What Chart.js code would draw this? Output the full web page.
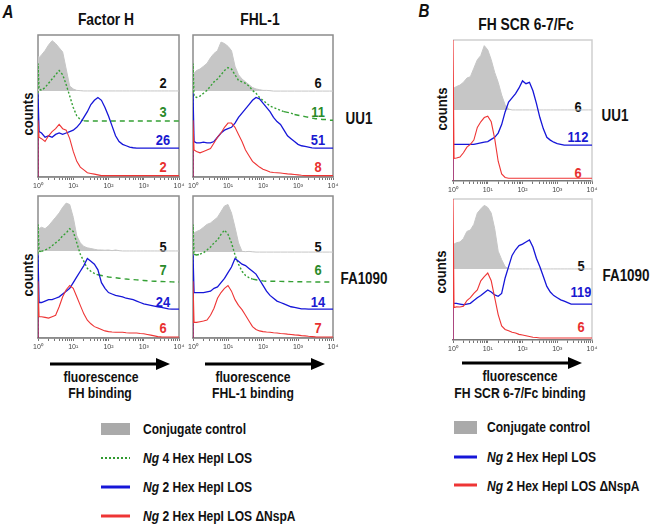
<!DOCTYPE html>
<html>
<head>
<meta charset="utf-8">
<script src="https://cdn.jsdelivr.net/npm/chart.js@4.4.1/dist/chart.umd.min.js"></script>
<style>
body{margin:0;background:#fff;}
#fig{position:relative;width:650px;height:525px;overflow:hidden;font-family:"Liberation Sans",Arial,sans-serif;font-weight:bold;color:#111;}
#fig canvas,#fig svg{position:absolute;}
.t{position:absolute;white-space:nowrap;line-height:1;}
.c{transform:translate(-50%,-50%) scaleX(.84);}
.l{transform-origin:0 50%;transform:translateY(-50%) scaleX(.86);font-size:14px;}
.v{transform:translate(-50%,-50%) rotate(-90deg) scaleX(.87);font-size:15px;}
.n{font-size:14px;transform:translate(-50%,-50%) scaleX(.92);}
.g{color:#2a8a2a}.b{color:#1a1ad0}.r{color:#e83030}
</style>
</head>
<body>
<div id="fig">
<svg width="650" height="525">
  <line x1="50" y1="364" x2="158" y2="364" stroke="#000" stroke-width="3"/>
  <polygon points="156,358 170,364 156,370" fill="#000"/>
  <line x1="205" y1="364" x2="313" y2="364" stroke="#000" stroke-width="3"/>
  <polygon points="311,358 325,364 311,370" fill="#000"/>
  <line x1="462" y1="363" x2="570" y2="363" stroke="#000" stroke-width="3"/>
  <polygon points="568,357 582,363 568,369" fill="#000"/>
  <rect x="101" y="423" width="29" height="12" fill="#aaaaaa"/>
  <line x1="101" y1="458" x2="130" y2="458" stroke="#2f9a2f" stroke-width="2" stroke-dasharray="2,2"/>
  <line x1="101" y1="487" x2="130" y2="487" stroke="#1616d8" stroke-width="3"/>
  <line x1="101" y1="516" x2="130" y2="516" stroke="#ee3535" stroke-width="3"/>
  <rect x="454" y="421" width="23" height="13" fill="#aaaaaa"/>
  <line x1="454" y1="457" x2="477" y2="457" stroke="#1616d8" stroke-width="3"/>
  <line x1="454" y1="485" x2="477" y2="485" stroke="#ee3535" stroke-width="3"/>
</svg>

<div class="t c" style="left:8px;top:12px;font-size:18px;font-style:italic">A</div>
<div class="t c" style="left:424px;top:11px;font-size:18px;font-style:italic">B</div>
<div class="t c" style="left:106px;top:19px;font-size:16.5px">Factor H</div>
<div class="t c" style="left:260px;top:19px;font-size:16.5px">FHL-1</div>
<div class="t c" style="left:526px;top:24px;font-size:16.5px">FH SCR 6-7/Fc</div>

<div class="t v" style="left:27px;top:114px">counts</div>
<div class="t v" style="left:27px;top:275px">counts</div>
<div class="t v" style="left:441px;top:109px">counts</div>
<div class="t v" style="left:440px;top:272px">counts</div>

<div class="t c" style="left:359px;top:119px;font-size:16px">UU1</div>
<div class="t c" style="left:364px;top:279px;font-size:16px">FA1090</div>
<div class="t c" style="left:615px;top:116px;font-size:16px">UU1</div>
<div class="t c" style="left:626px;top:276px;font-size:16px">FA1090</div>

<div class="t n" style="left:163px;top:83px">2</div>
<div class="t n g" style="left:163px;top:112px">3</div>
<div class="t n b" style="left:163px;top:140px">26</div>
<div class="t n r" style="left:163px;top:167px">2</div>
<div class="t n" style="left:318px;top:83px">6</div>
<div class="t n g" style="left:318px;top:112px">11</div>
<div class="t n b" style="left:318px;top:140px">51</div>
<div class="t n r" style="left:318px;top:167px">8</div>
<div class="t n" style="left:163px;top:247px">5</div>
<div class="t n g" style="left:163px;top:270px">7</div>
<div class="t n b" style="left:163px;top:302px">24</div>
<div class="t n r" style="left:163px;top:328px">6</div>
<div class="t n" style="left:318px;top:247px">5</div>
<div class="t n g" style="left:318px;top:270px">6</div>
<div class="t n b" style="left:318px;top:302px">14</div>
<div class="t n r" style="left:318px;top:328px">7</div>
<div class="t n" style="left:578px;top:107px">6</div>
<div class="t n b" style="left:578px;top:137px">112</div>
<div class="t n r" style="left:578px;top:173px">6</div>
<div class="t n" style="left:581px;top:266px">5</div>
<div class="t n b" style="left:581px;top:292px">119</div>
<div class="t n r" style="left:581px;top:327px">6</div>

<div class="t c" style="left:101px;top:377px;font-size:14.5px">fluorescence</div>
<div class="t c" style="left:100px;top:393px;font-size:14.5px">FH binding</div>
<div class="t c" style="left:253px;top:377px;font-size:14.5px">fluorescence</div>
<div class="t c" style="left:253px;top:393px;font-size:14.5px">FHL-1 binding</div>
<div class="t c" style="left:520px;top:376px;font-size:14.5px">fluorescence</div>
<div class="t c" style="left:520px;top:393px;font-size:14.5px">FH SCR 6-7/Fc binding</div>

<div class="t l" style="left:143px;top:429px">Conjugate control</div>
<div class="t l" style="left:143px;top:458px"><i>Ng</i> 4 Hex HepI LOS</div>
<div class="t l" style="left:143px;top:487px"><i>Ng</i> 2 Hex HepI LOS</div>
<div class="t l" style="left:143px;top:516px"><i>Ng</i> 2 Hex HepI LOS ΔNspA</div>
<div class="t l" style="left:487px;top:427px">Conjugate control</div>
<div class="t l" style="left:487px;top:457px"><i>Ng</i> 2 Hex HepI LOS</div>
<div class="t l" style="left:487px;top:486px"><i>Ng</i> 2 Hex HepI LOS ΔNspA</div>
</div>

<script>
// histogram bins, log10 of fluorescence (first bin repeated: histogram starts at zero count)
const logBins = [0, 0, 0.03,
  0.1, 0.2, 0.3, 0.4, 0.5, 0.6, 0.7, 0.8, 0.9, 1.0,
  1.1, 1.2, 1.3, 1.4, 1.5, 1.6, 1.7, 1.8, 1.9, 2.0,
  2.1, 2.2, 2.3, 2.4, 2.5, 2.6, 2.7, 2.8, 2.9, 3.0,
  3.1, 3.2, 3.3, 3.4, 3.5, 3.6, 3.7, 3.8, 3.9, 4.0];
const majorTicks = [1, 10, 100, 1000, 10000];
const majorLabels = ['10⁰', '10¹', '10²', '10³', '10⁴'];
const minorSteps = [2, 3, 4, 5, 6, 7, 8, 9];

// counts, % of panel height (overlays are offset as in the figure)
// Factor H / UU1
const fhUU1Conj = [0, 85, 84, 86, 89, 93, 96, 94, 91, 88, 76, 64, 62,
  61, 60.8, 60.6, 60.6, 60.6, 60.6, 60.6, 60.6, 60.6, 60.6,
  60.6, 60.6, 60.6, 60.6, 60.6, 60.6, 60.6, 60.6, 60.6, 60.6,
  60.6, 60.6, 60.6, 60.6, 60.6, 60.6, 60.6, 60.6, 60.6, 60.6];
const fhUU1Hex4 = [0, 80, 62, 61, 63, 66, 69, 72, 75, 72, 65, 57, 49,
  43, 40.5, 39.5, 39.4, 39.4, 39.4, 39.4, 39.4, 39.4, 39.4,
  39.4, 39.4, 39.4, 39.4, 39.4, 39.4, 39.4, 39.4, 39.4, 39.4,
  39.4, 39.4, 39.4, 39.4, 39.4, 39.4, 39.4, 39.4, 39.4, 39.4];
const fhUU1Hex2 = [0, 59, 32, 31, 28, 29, 28, 30, 31, 30, 31, 32, 33,
  35, 38, 42, 46, 51, 54, 56, 54, 49, 43,
  36, 29, 25, 23, 22, 21, 20.6, 20.4, 20.4, 20.4,
  20.4, 20.4, 20.4, 20.4, 20.4, 20.4, 20.4, 20.4, 20.4, 20.4];
const fhUU1Nspa = [0, 40, 28, 27, 25, 29, 32, 34, 37, 34, 33, 27, 18,
  11, 7, 5, 3, 2.5, 2, 1.5, 1, 1, 1,
  1, 1, 1, 1, 1, 1, 1, 1, 1, 1,
  1, 1, 1, 1, 1, 1, 1, 1, 1, 1];

// FHL-1 / UU1
const fhlUU1Conj = [0, 74, 73, 75, 76, 78, 80, 84, 87, 89, 95, 94, 92,
  89, 78, 72, 69, 67, 65, 63, 62, 61.5, 61,
  61, 60.8, 60.5, 60.5, 60.5, 60.5, 60.5, 60.5, 60.5, 60.5,
  60.5, 60.5, 60.5, 60.5, 60.5, 60.5, 60.5, 60.5, 60.5, 60.5];
const fhlUU1Hex4 = [0, 80, 57, 56, 57, 59, 61, 64, 67, 69, 72, 75, 77,
  76, 72, 68, 67, 66, 64, 61, 59, 56, 54,
  52, 50, 49, 48, 47, 46, 45.5, 45, 44, 43.5,
  43, 42.5, 42, 41.5, 41, 41, 40.5, 40.5, 40, 40];
const fhlUU1Hex2 = [0, 59, 25, 24, 24, 24.5, 24, 24, 25, 28, 31, 33, 34,
  35, 38, 42, 45, 48, 51, 54, 56, 55, 52,
  49, 46, 42, 39, 37, 33, 29, 27, 25, 23,
  22, 21.5, 21, 20.5, 20.4, 20.4, 20.4, 20.4, 20.4, 20.4];
const fhlUU1Nspa = [0, 40, 19, 18, 17, 18, 19, 20, 24, 28, 31, 35, 38,
  38, 35, 30, 25, 19, 15, 11, 9, 7, 5.5,
  4.5, 3.5, 3.2, 3, 2.8, 2.5, 2.2, 2, 1.8, 1.5,
  1.2, 1, 1, 1, 1, 1, 1, 1, 1, 1];

// Factor H / FA1090
const fhFAConj = [0, 75, 77, 78, 77, 79, 82, 85, 88, 92, 95, 94, 85,
  72, 67, 64.5, 63.5, 63, 62.5, 62, 62, 61.8, 62,
  61.5, 62, 61.5, 61.3, 61.3, 61.3, 61.3, 61.3, 61.3, 61.3,
  61.3, 61.3, 61.3, 61.3, 61.3, 61.3, 61.3, 61.3, 61.3, 61.3];
const fhFAHex4 = [0, 80, 61, 61, 62, 63, 65, 67, 69, 72, 74, 77, 75,
  67, 59, 54, 49, 47, 45.5, 44.5, 44, 43.5, 43,
  42.7, 42.4, 42.1, 41.8, 41.5, 41.3, 41.1, 40.9, 40.7, 40.5,
  40.3, 40.1, 40, 39.9, 39.8, 39.7, 39.6, 39.5, 39.4, 39.4];
const fhFAHex2 = [0, 59, 25, 25, 26, 27, 27, 28, 29, 31, 33, 35, 39,
  43, 47, 51, 56, 54, 52, 48, 39, 35, 32,
  31, 30, 29.5, 29, 28, 27.5, 27, 26, 25, 24,
  23.5, 23, 22.5, 22, 21.5, 21, 20.5, 20.4, 20.4, 20.4];
const fhFANspa = [0, 40, 15, 15, 14.5, 14, 15, 16, 22, 29, 34, 37, 35,
  29, 23, 17, 12.5, 10, 8, 7, 6, 5, 4.5,
  4.2, 4, 4, 4, 3.7, 3.5, 3.5, 3.5, 3.2, 3,
  2.5, 2, 1.5, 1, 0.8, 0.7, 0.7, 0.7, 0.7, 0.7];

// FHL-1 / FA1090
const fhlFAConj = [0, 74, 74, 75, 76, 78, 80, 81, 83, 85, 89, 93, 94,
  88, 78, 67, 61, 60.8, 61, 60.7, 60.5, 60.5, 60.5,
  60.5, 60.5, 60.5, 60.5, 60.5, 60.5, 60.5, 60.5, 60.5, 60.5,
  60.5, 60.5, 60.5, 60.5, 60.5, 60.5, 60.5, 60.5, 60.5, 60.5];
const fhlFAHex4 = [0, 80, 59, 58.5, 59, 60, 62, 64, 67, 69, 73, 76, 73,
  67, 58.5, 52, 47, 44, 42.5, 41.5, 41, 40.5, 40.2,
  40, 40, 40, 39.9, 39.9, 39.8, 39.8, 39.7, 39.7, 39.6,
  39.6, 39.5, 39.5, 39.5, 39.4, 39.4, 39.4, 39.4, 39.4, 39.4];
const fhlFAHex2 = [0, 59, 32, 32, 32, 32, 32.5, 33, 35, 36, 39, 42, 46,
  50, 56, 54, 52, 51, 49, 47, 45, 41, 37,
  33, 30, 28, 26, 25, 24, 23, 22, 21.5, 21,
  20.5, 20.5, 20.4, 20.4, 20.4, 20.4, 20.4, 20.4, 20.4, 20.4];
const fhlFANspa = [0, 40, 11, 11, 11.5, 12, 12.7, 16, 21, 28, 32, 35, 37,
  33, 27, 23, 20, 16, 12, 8, 6, 5, 4.5,
  4.2, 4, 3.7, 3.5, 3.2, 3, 2.7, 2.5, 2.2, 2,
  1.7, 1.5, 1.2, 1, 0.8, 0.7, 0.7, 0.7, 0.7, 0.7];

// FH SCR 6-7/Fc / UU1
const scrUU1Conj = [0, 66, 66, 67, 68, 70, 73, 74, 80, 86, 89, 96, 93,
  86, 77, 70, 61, 54, 51, 50.4, 50.4, 50.4, 50.4,
  50.4, 50.4, 50.4, 50.4, 50.4, 50.4, 50.4, 50.4, 50.4, 50.4,
  50.4, 50.4, 50.4, 50.4, 50.4, 50.4, 50.4, 50.4, 50.4, 50.4];
const scrUU1Hex2 = [0, 26, 26, 26, 26, 26, 26, 26, 26, 26.5, 27, 27.5, 28,
  29.5, 31, 34, 40, 49, 56, 59, 62, 66, 71,
  69, 70, 64, 55, 45, 37, 31, 29, 27.5, 26.5,
  26, 25.5, 25.5, 25.5, 25.5, 25.5, 25.5, 25.5, 25.5, 25.5];
const scrUU1Nspa = [0, 100, 16, 16.3, 17, 20, 24, 26, 29, 38, 42, 45, 46,
  42, 30, 14, 5, 2.5, 2, 2, 2, 2, 2,
  2, 2, 2, 2, 2, 2, 2, 2, 2, 2,
  2, 2, 2, 2, 2, 2, 2, 2, 2, 2];

// FH SCR 6-7/Fc / FA1090
const scrFAConj = [0, 68, 68, 69, 69.5, 72, 77, 78, 82, 90, 93, 95.5, 94,
  90, 79, 63, 57, 52, 50.5, 50.4, 50.4, 50.4, 50.4,
  50.4, 50.4, 50.4, 50.4, 50.4, 50.4, 50.4, 50.4, 50.4, 50.4,
  50.4, 50.4, 50.4, 50.4, 50.4, 50.4, 50.4, 50.4, 50.4, 50.4];
const scrFAHex2 = [0, 26, 26, 26, 25.5, 25, 25.5, 26, 28, 30, 31.5, 33.5, 35.5,
  34, 32, 31, 33, 44, 52, 60, 64, 67, 68,
  69.5, 71, 66, 58, 52, 45, 38, 34, 31.5, 30,
  28.5, 27.5, 26.5, 25.5, 25.5, 25.5, 25.5, 25.5, 25.5, 25.5];
const scrFANspa = [0, 100, 23, 23.5, 23.4, 24, 28, 30, 33, 35.5, 42, 45, 47.5,
  42, 30, 18, 10, 7.5, 6.5, 5.5, 5, 4, 3.5,
  3, 2.5, 2, 1.8, 1.4, 1.4, 1.4, 1.4, 1.4, 1.4,
  1.4, 1.4, 1.4, 1.4, 1.4, 1.4, 1.4, 1.4, 1.4, 1.4];

// plot areas on the page: [left, top, right, bottom]
const panels = [
  {box: [38, 35, 179, 177], framed: true, series: {nspa: fhUU1Nspa, hex2: fhUU1Hex2, hex4: fhUU1Hex4, conj: fhUU1Conj}},
  {box: [193, 35, 333, 177], framed: true, series: {nspa: fhlUU1Nspa, hex2: fhlUU1Hex2, hex4: fhlUU1Hex4, conj: fhlUU1Conj}},
  {box: [38, 196, 179, 338], framed: true, series: {nspa: fhFANspa, hex2: fhFAHex2, hex4: fhFAHex4, conj: fhFAConj}},
  {box: [193, 196, 333, 338], framed: true, series: {nspa: fhlFANspa, hex2: fhlFAHex2, hex4: fhlFAHex4, conj: fhlFAConj}},
  {box: [453, 40, 592, 181], framed: false, series: {nspa: scrUU1Nspa, hex2: scrUU1Hex2, conj: scrUU1Conj}},
  {box: [453, 199, 592, 340], framed: false, series: {nspa: scrFANspa, hex2: scrFAHex2, conj: scrFAConj}}
];

const looks = {
  nspa: {borderColor: '#ee3535', borderWidth: 1.1},
  hex2: {borderColor: '#1616d8', borderWidth: 1.3},
  hex4: {borderColor: '#35a035', borderWidth: 1.4,
    segment: {borderDash: c => Math.abs(c.p1.parsed.y - c.p0.parsed.y) < 0.8 ? [5, 4] : [2, 2]}},
  conj: {borderColor: '#c6c6c6', backgroundColor: '#c6c6c6', borderWidth: 1}
};

const frame = {
  id: 'frame',
  beforeDatasetsDraw(chart, args, opts) {
    const {ctx, chartArea: a} = chart;
    ctx.save();
    ctx.lineWidth = 1.5;
    if (opts.framed) {
      ctx.strokeStyle = '#8c8c8c';
      ctx.strokeRect(a.left, a.top, a.right - a.left, a.bottom - a.top);
    } else {
      ctx.strokeStyle = '#cfcfcf';
      ctx.beginPath();
      ctx.moveTo(a.left, a.top);
      ctx.lineTo(a.right, a.top);
      ctx.lineTo(a.right, a.bottom);
      ctx.stroke();
    }
    ctx.restore();
  }
};

const padL = 8, padR = 8, padT = 3, axisH = 17;
const fig = document.getElementById('fig');

panels.forEach(p => {
  const [L, T, R, B] = p.box;
  const cv = document.createElement('canvas');
  cv.width = R - L + padL + padR;
  cv.height = B - T + padT + axisH;
  cv.style.left = (L - padL) + 'px';
  cv.style.top = (T - padT) + 'px';
  fig.appendChild(cv);

  const datasets = Object.keys(p.series).map(k => {
    const vals = p.series[k];
    const ds = Object.assign({
      data: logBins.map((b, i) => ({x: Math.pow(10, b), y: vals[i]})),
      pointRadius: 0,
      tension: 0,
      fill: false
    }, looks[k]);
    if (k === 'conj') ds.fill = {value: vals[vals.length - 1]};
    return ds;
  });

  new Chart(cv, {
    type: 'line',
    data: {datasets},
    options: {
      responsive: false,
      animation: false,
      events: [],
      devicePixelRatio: 1,
      layout: {padding: {left: padL, right: padR, top: padT, bottom: 0}},
      plugins: {legend: {display: false}, tooltip: {enabled: false}, frame: {framed: p.framed}},
      scales: {
        x: {
          type: 'logarithmic',
          min: 1,
          max: 10000,
          afterBuildTicks: s => {
            s.ticks = majorTicks.flatMap(m => m < 10000 ? [m, ...minorSteps.map(k => k * m)] : [m]).map(v => ({value: v}));
          },
          afterFit: s => { s.height = axisH; },
          border: {display: true, color: p.framed ? '#8c8c8c' : '#777', width: 1.5},
          grid: {drawOnChartArea: false, drawTicks: true, tickLength: 3, tickColor: '#777', tickWidth: 1},
          ticks: {
            autoSkip: false,
            maxRotation: 0,
            padding: 2,
            color: '#444',
            font: {family: 'Liberation Sans', size: 7},
            callback: v => {
              const i = majorTicks.indexOf(v);
              return i >= 0 ? majorLabels[i] : '';
            }
          }
        },
        y: {display: false, min: 0, max: 100}
      }
    },
    plugins: [frame]
  });
});
</script>
</body>
</html>
